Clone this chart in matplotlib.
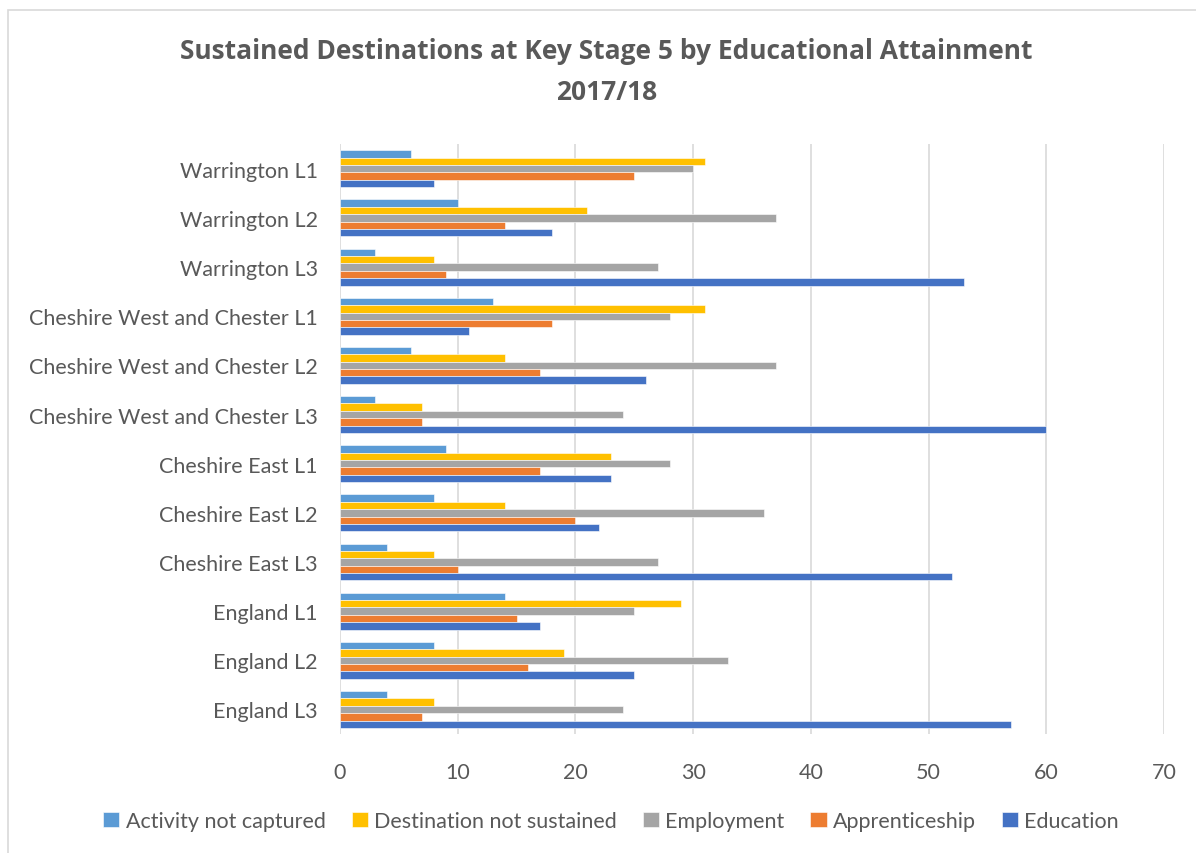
import matplotlib.pyplot as plt
import numpy as np
from matplotlib.patches import Rectangle

categories = ['Warrington L1', 'Warrington L2', 'Warrington L3',
              'Cheshire West and Chester L1', 'Cheshire West and Chester L2',
              'Cheshire West and Chester L3',
              'Cheshire East L1', 'Cheshire East L2', 'Cheshire East L3',
              'England L1', 'England L2', 'England L3']

activity_not_captured = [6, 10, 3, 13, 6, 3, 9, 8, 4, 14, 8, 4]
destination_not_sustained = [31, 21, 8, 31, 14, 7, 23, 14, 8, 29, 19, 8]
employment = [30, 37, 27, 28, 37, 24, 28, 36, 27, 25, 33, 24]
apprenticeship = [25, 14, 9, 18, 17, 7, 17, 20, 10, 15, 16, 7]
education = [8, 18, 53, 11, 26, 60, 23, 22, 52, 17, 25, 57]

series = [
    ('Activity not captured', activity_not_captured, '#5B9BD5'),
    ('Destination not sustained', destination_not_sustained, '#FFC000'),
    ('Employment', employment, '#A5A5A5'),
    ('Apprenticeship', apprenticeship, '#ED7D31'),
    ('Education', education, '#4472C4'),
]

text_col = '#595959'
plt.rcParams['font.family'] = ['Lato', 'DejaVu Sans']

fig = plt.figure(figsize=(11.96, 8.54), dpi=100)
ax = fig.add_axes([0.2843, 0.1393, 0.6889, 0.6907])

# chart border
fig.patches.append(Rectangle((8 / 1196, -0.01), 1.0, 1 - 11 / 854 + 0.01,
                             transform=fig.transFigure, fill=False,
                             edgecolor='#D9D9D9', linewidth=1.2))

n = len(categories)
y = np.arange(n)[::-1]  # first category on top
h = 0.15
for i, (name, vals, col) in enumerate(series):
    offs = (i - 2) * h
    ax.barh(y - offs, vals, height=h, color=col, label=name,
            edgecolor='white', linewidth=0.4, zorder=3)

ax.set_xlim(0, 70)
ax.set_ylim(-0.5, n - 0.5)
ax.set_xticks(range(0, 71, 10))
ax.set_yticks(y)
ax.set_yticklabels(categories)
ax.tick_params(axis='both', length=0, labelsize=15.5, colors=text_col)
ax.tick_params(axis='x', pad=20)
ax.tick_params(axis='y', pad=16)
ax.grid(axis='x', color='#D9D9D9', linewidth=1.2, zorder=0)
for s in ax.spines.values():
    s.set_visible(False)

fig.text(0.507, 1 - 72 / 854, 'Sustained Destinations at Key Stage 5 by Educational Attainment\n2017/18',
         ha='center', va='center', fontsize=19, fontweight='bold', color=text_col,
         family=['Open Sans', 'DejaVu Sans'], linespacing=1.65)

leg = fig.legend(loc='center', bbox_to_anchor=(0.511, 1 - 822 / 854), ncol=5,
                 frameon=False, fontsize=15.5, handlelength=0.75, handleheight=0.75,
                 handletextpad=0.3, columnspacing=1.2)
for t in leg.get_texts():
    t.set_color(text_col)

fig.savefig('out.png', dpi=100)
